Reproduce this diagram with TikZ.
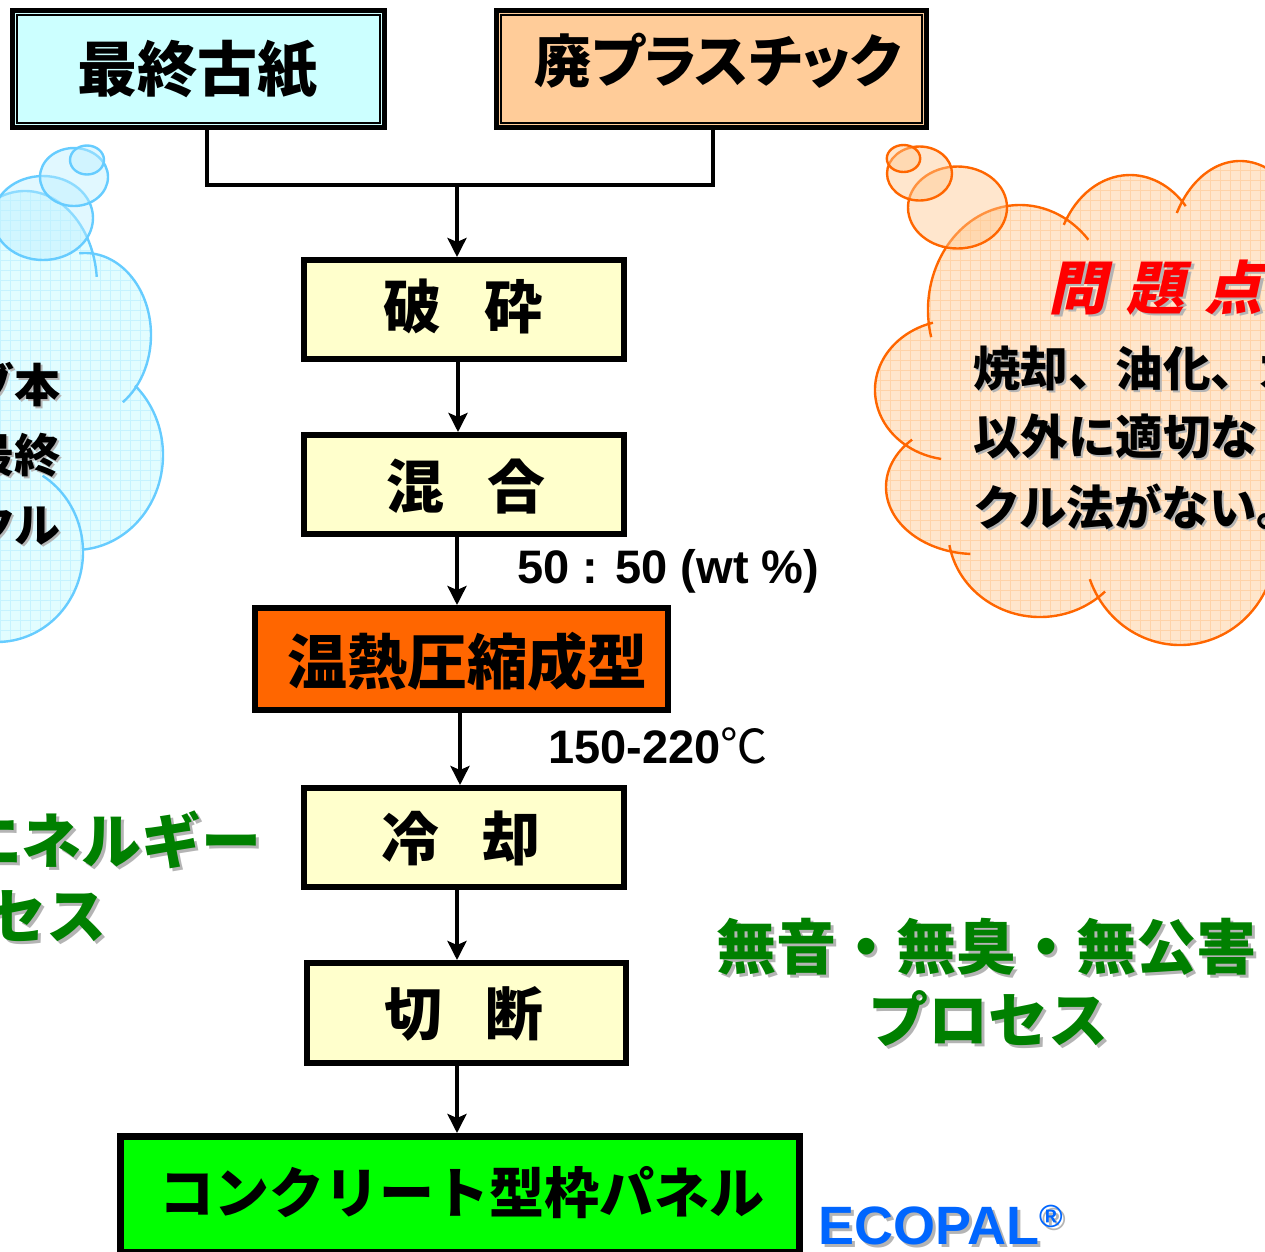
\documentclass[tikz,border=0pt]{standalone}
\usepackage{fontspec}
\setmainfont{Liberation Sans}
\newfontfamily\jp{Noto Sans CJK JP}
\newfontfamily\jpp{Noto Sans CJK JP}[RawFeature=+palt]
\newfontfamily\jpsl{Noto Sans CJK JP}[FakeSlant=0.22]
\usetikzlibrary{arrows.meta}

\definecolor{cyanbox}{HTML}{CCFFFF}
\definecolor{peachbox}{HTML}{FFCC99}
\definecolor{stepfill}{HTML}{FFFFCC}
\definecolor{moldfill}{HTML}{FF6600}
\definecolor{panelfill}{HTML}{00FF00}
\definecolor{ecoblue}{HTML}{0066FF}
\definecolor{leafgreen}{HTML}{008000}
\definecolor{shadowgray}{HTML}{B4B4B4}
\definecolor{skyline}{HTML}{66CCFF}
\definecolor{skyfill}{HTML}{E2FDFF}
\definecolor{skygrid}{HTML}{C6F3FF}
\definecolor{skybubble}{HTML}{BDEFFF}
\definecolor{orangeline}{HTML}{FF6600}
\definecolor{peachfill}{HTML}{FFE6CC}
\definecolor{peachgrid}{HTML}{FFD3A8}
\definecolor{peachbubble}{HTML}{FFC890}
\definecolor{alertred}{HTML}{FF0000}

\begin{document}
\begin{tikzpicture}[x=1pt,y=-1pt,
  box/.style={draw=black,rectangle,inner sep=0pt,line width=6pt},
  srcbox/.style={box,line width=5pt},
  innerline/.style={draw=black,line width=1.8pt},
  link/.style={draw=black,line width=4.5pt},
  flow/.style={draw=black,line width=4.5pt,-{Stealth[length=19pt,width=19pt,inset=4pt]}},
  jptext/.style={inner sep=0pt,font=\jp\bfseries\fontsize{#1}{#1}\selectfont},
  jptext/.default=60,
  latintext/.style={inner sep=0pt,font=\bfseries\fontsize{#1}{#1}\selectfont},
  shadow/.style={text=shadowgray},
  cloudline/.style={line width=2.4pt},
]
\useasboundingbox (0,0) rectangle (1265,1251);
\clip (0,0) rectangle (1265,1251);

% ---------- left thought cloud (blue) ----------
\begin{scope}
  \clip (25,285) ellipse[x radius=72,y radius=94]
        (85,335) ellipse[x radius=66,y radius=82]
        (75,455) ellipse[x radius=88,y radius=95]
        (-3,552) ellipse[x radius=86,y radius=90]
        (0,420) ellipse[x radius=110,y radius=200];
  \fill[skyfill] (-120,150) rectangle (220,700);
  \draw[skygrid,line width=0.9pt,step=10pt] (-120,150) grid (220,700);
\end{scope}
\begin{scope}[skyline,cloudline]
  \draw (25,285) ++(-160:72 and 94) arc[start angle=-160,end angle=-5,x radius=72,y radius=94];
  \draw (85,335) ++(-95:66 and 82) arc[start angle=-95,end angle=55,x radius=66,y radius=82];
  \draw (75,455) ++(-47:88 and 95) arc[start angle=-47,end angle=85,x radius=88,y radius=95];
  \draw (-3,552) ++(-58:86 and 90) arc[start angle=-58,end angle=100,x radius=86,y radius=90];
  \draw[fill=skybubble,fill opacity=0.45] (43,218) ellipse[x radius=50,y radius=42];
  \draw[fill=skybubble,fill opacity=0.45] (74,177) ellipse[x radius=34,y radius=29];
  \draw[fill=skybubble,fill opacity=0.45] (87,160) ellipse[x radius=17,y radius=14.5];
\end{scope}

% ---------- right thought cloud (orange) ----------
\begin{scope}
  \clip (1020,310) ellipse[x radius=92,y radius=105]
        (1130,269) ellipse[x radius=75,y radius=94]
        (1240,265) ellipse[x radius=73,y radius=104]
        (955,390) ellipse[x radius=80,y radius=70]
        (975,487) ellipse[x radius=89,y radius=67]
        (1040,530) ellipse[x radius=92,y radius=87]
        (1180,545) ellipse[x radius=96,y radius=100]
        (1120,410) ellipse[x radius=150,y radius=170]
        (1290,420) ellipse[x radius=60,y radius=150];
  \fill[peachfill] (850,150) rectangle (1300,660);
  \draw[peachgrid,line width=0.9pt,step=10pt] (850,150) grid (1300,660);
\end{scope}
\begin{scope}[orangeline,cloudline]
  \draw (1020,310) ++(165:92 and 105) arc[start angle=165,end angle=318,x radius=92,y radius=105];
  \draw (1130,269) ++(208:75 and 94) arc[start angle=208,end angle=318,x radius=75,y radius=94];
  \draw (1240,265) ++(210:73 and 104) arc[start angle=210,end angle=340,x radius=73,y radius=104];
  \draw (955,390) ++(254:80 and 70) arc[start angle=254,end angle=100,x radius=80,y radius=70];
  \draw (975,487) ++(225:89 and 67) arc[start angle=225,end angle=93,x radius=89,y radius=67];
  \draw (1040,530) ++(170:92 and 87) arc[start angle=170,end angle=45,x radius=92,y radius=87];
  \draw (1180,545) ++(160:96 and 100) arc[start angle=160,end angle=-20,x radius=96,y radius=100];
  \draw[fill=peachbubble,fill opacity=0.45] (957.5,207.5) ellipse[x radius=49.5,y radius=41];
  \draw[fill=peachbubble,fill opacity=0.45] (919.5,173.5) ellipse[x radius=32.5,y radius=27];
  \draw[fill=peachbubble,fill opacity=0.45] (903.5,158.5) ellipse[x radius=16.7,y radius=13.5];
\end{scope}

% ---------- cloud texts ----------
\node[jptext=46,shadow,anchor=east] (leftA) at (63,387) {ブ本};
\node[jptext=46,anchor=east] (leftAt) at (61,385) {ブ本};
\node[jptext=46,shadow,anchor=east] (leftB) at (63,457) {最終};
\node[jptext=46,anchor=east] (leftBt) at (61,455) {最終};
\node[jptext=46,shadow,anchor=east] (leftC) at (63,527) {クル};
\node[jptext=46,anchor=east] (leftCt) at (61,525) {クル};

\node[inner sep=0pt,anchor=west,shadow,font=\jpsl\bfseries\fontsize{58}{58}\selectfont] (issueS) at (1051,290) {問\hspace{20pt}題\hspace{20pt}点};
\node[inner sep=0pt,anchor=west,text=alertred,font=\jpsl\bfseries\fontsize{58}{58}\selectfont] (issue) at (1048,288) {問\hspace{20pt}題\hspace{20pt}点};
\node[jptext=47.5,shadow,anchor=west] (issueAS) at (975,370) {焼却、油化、ガ};
\node[jptext=47.5,anchor=west] (issueA) at (973,368) {焼却、油化、ガ};
\node[jptext=47.5,shadow,anchor=west] (issueBS) at (975,439) {以外に適切な};
\node[jptext=47.5,anchor=west] (issueB) at (973,437) {以外に適切な};
\node[jptext=47.5,shadow,anchor=west] (issueCS) at (975,509) {クル法がない。};
\node[jptext=47.5,anchor=west] (issueC) at (973,507) {クル法がない。};

% ---------- process boxes ----------
\node[srcbox,fill=cyanbox,minimum width=372pt,minimum height=117pt] (paper) at (198.5,69) {};
\node[srcbox,fill=peachbox,minimum width=430pt,minimum height=117pt] (plastic) at (711.5,69) {};
\draw[innerline] ([shift={(7,7)}]paper.north west) rectangle ([shift={(-7,-7)}]paper.south east);
\draw[innerline] ([shift={(7,7)}]plastic.north west) rectangle ([shift={(-7,-7)}]plastic.south east);
\node[jptext=60] (paperT) at (197,70) {最終古紙};
\node[inner sep=0pt,font=\jpp\bfseries\fontsize{57}{57}\selectfont] (plasticT) at (718,61) {廃プラスチック};

\node[box,fill=stepfill,minimum width=320pt,minimum height=99pt] (crush) at (464,309.5) {};
\node[box,fill=stepfill,minimum width=320pt,minimum height=99pt] (mix) at (464,484.5) {};
\node[box,fill=moldfill,minimum width=413pt,minimum height=102pt] (mold) at (461.5,659) {};
\node[box,fill=stepfill,minimum width=320pt,minimum height=99pt] (cool) at (464,837.5) {};
\node[box,fill=stepfill,minimum width=319pt,minimum height=100pt] (cut) at (466.5,1013) {};
\node[srcbox,fill=panelfill,minimum width=681pt,minimum height=118pt] (panel) at (460,1194.5) {};
\draw[innerline] ([shift={(6,6)}]panel.north west) rectangle ([shift={(-6,-6)}]panel.south east);

\node[jptext=58] (crushT) at (463,306) {破\hspace{44pt}砕};
\node[jptext=58] (mixT) at (466,487) {混\hspace{44pt}合};
\node[jptext=60] (moldT) at (467,662) {温熱圧縮成型};
\node[jptext=58] (coolT) at (461,838) {冷\hspace{44pt}却};
\node[jptext=58] (cutT) at (464,1014) {切\hspace{44pt}断};
\node[jptext=55] (panelT) at (462,1193) {コンクリート型枠パネル};

% ---------- connectors ----------
\coordinate (join) at (457,185);
\coordinate (spine) at (458,0);
\draw[link] ([xshift=8.5pt]paper.south) |- (join);
\draw[link] ([xshift=1.5pt]plastic.south) |- (join);
\draw[flow] (join) -- (crush.north -| join);
\draw[flow] (crush.south -| spine) -- (mix.north -| spine);
\draw[flow] ([xshift=-1pt]mix.south -| spine) -- ([xshift=-1pt]mold.north -| spine);
\draw[flow] ([xshift=2pt]mold.south -| spine) -- ([xshift=2pt]cool.north -| spine);
\draw[flow] ([xshift=-1pt]cool.south -| spine) -- ([xshift=-1pt]cut.north -| spine);
\draw[flow] ([xshift=-1pt]cut.south -| spine) -- ([xshift=-1pt]panel.north -| spine);

% ---------- process conditions ----------
\node[latintext=47,anchor=base west] (ratio) at (517,583) {50 : 50 (wt \%)};
\node[latintext=47,anchor=base west] (temp) at (548,763) {150-220{\jp\mdseries ℃}};

% ---------- slogans ----------
\node[jptext=60,shadow,anchor=east] (saveAS) at (265,843) {エネルギー};
\node[jptext=60,text=leafgreen,anchor=east] (saveA) at (262,840) {エネルギー};
\node[jptext=60,shadow,anchor=east] (saveBS) at (110,918) {プロセス};
\node[jptext=60,text=leafgreen,anchor=east] (saveB) at (107,915) {プロセス};

\node[jptext=60,shadow] (quietAS) at (989,950) {無音・無臭・無公害};
\node[jptext=60,text=leafgreen] (quietA) at (986,947) {無音・無臭・無公害};
\node[jptext=60,shadow] (quietBS) at (991,1022) {プロセス};
\node[jptext=60,text=leafgreen] (quietB) at (988,1019) {プロセス};

\node[latintext=54,shadow,anchor=base west] (brandS) at (821,1247) {ECOPAL\raisebox{17pt}{\fontsize{32}{32}\selectfont ®}};
\node[latintext=54,text=ecoblue,anchor=base west] (brand) at (818,1244) {ECOPAL\raisebox{17pt}{\fontsize{32}{32}\selectfont ®}};
\end{tikzpicture}
\end{document}
